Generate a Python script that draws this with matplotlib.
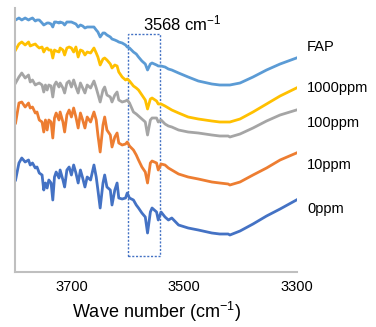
import matplotlib
matplotlib.use("Agg")
import matplotlib.pyplot as plt
from matplotlib.patches import Rectangle

plt.rcParams['font.family'] = ['Liberation Sans', 'DejaVu Sans']
plt.rcParams['mathtext.default'] = 'regular'

# shared wavenumber grid (cm-1)
wavenumber = [3799, 3793, 3788, 3782, 3776, 3773, 3769, 3764, 3761, 3757,
              3752, 3749, 3746, 3743, 3740, 3736, 3733, 3730, 3727, 3722,
              3720, 3715, 3712, 3708, 3704, 3700, 3696, 3692, 3688, 3684,
              3680, 3676, 3672, 3666, 3660, 3656, 3653, 3649, 3644, 3641,
              3637, 3631, 3628, 3623, 3619, 3616, 3610, 3604, 3601, 3597,
              3590, 3585, 3581, 3575, 3569, 3565, 3560, 3557, 3549, 3546,
              3541, 3534, 3528, 3522, 3510, 3493, 3475, 3451, 3437, 3422,
              3419, 3401, 3378, 3354, 3330, 3301]

# stacked spectra (offset, arbitrary units)
fap = [252, 254, 252, 254, 252, 253, 254, 251, 252, 252,
       249, 247, 248, 249, 249, 248, 245, 250, 250, 249,
       250, 249, 247, 250, 250, 250, 249, 248, 245, 247,
       246, 244, 245, 245, 245, 242, 240, 235, 239, 239,
       237, 235, 233, 232, 231, 230, 229, 227, 225, 224,
       220, 218, 215, 211, 208, 202, 208, 209, 207, 206,
       206, 205, 203, 202, 199, 195, 191, 188, 187, 187,
       187, 189, 195, 202, 208, 214]
ppm1000 = [222, 228, 230, 227, 230, 226, 227, 228, 226, 224,
           225, 220, 223, 224, 222, 222, 214, 222, 221, 220,
           224, 222, 217, 224, 225, 224, 220, 225, 215, 222,
           221, 217, 220, 219, 224, 219, 215, 207, 213, 214,
           212, 208, 204, 207, 206, 200, 195, 192, 193, 191,
           186, 184, 182, 177, 172, 163, 173, 174, 171, 168,
           168, 166, 164, 162, 159, 155, 153, 151, 150, 150,
           150, 153, 160, 168, 176, 184]
ppm100 = [189, 195, 199, 194, 197, 190, 192, 187, 188, 189,
          187, 180, 187, 182, 187, 186, 175, 187, 190, 185,
          189, 184, 179, 189, 191, 185, 192, 185, 179, 189,
          184, 179, 187, 184, 191, 184, 178, 170, 182, 185,
          177, 175, 170, 177, 180, 172, 170, 171, 172, 169,
          160, 158, 156, 153, 150, 137, 152, 154, 154, 150,
          152, 148, 146, 145, 142, 140, 139, 137, 136, 136,
          135, 138, 144, 151, 157, 162]
ppm10 = [149, 169, 170, 165, 169, 164, 165, 159, 160, 152,
         150, 140, 152, 142, 152, 150, 134, 154, 159, 152,
         160, 150, 140, 157, 162, 155, 164, 155, 144, 159,
         152, 144, 155, 150, 160, 152, 137, 120, 147, 155,
         142, 137, 125, 135, 139, 129, 127, 128, 130, 126,
         122, 117, 112, 105, 100, 89, 109, 111, 109, 102,
         108, 107, 104, 102, 98, 95, 93, 90, 89, 88,
         87, 90, 97, 104, 112, 119]
ppm0 = [92, 109, 114, 110, 112, 107, 109, 104, 105, 99,
        97, 82, 89, 84, 92, 89, 72, 95, 100, 94,
        102, 92, 85, 102, 105, 97, 107, 99, 89, 102,
        94, 85, 95, 92, 107, 95, 82, 64, 89, 97,
        85, 82, 67, 82, 89, 74, 73, 74, 79, 74,
        72, 67, 64, 59, 55, 39, 60, 64, 60, 52,
        60, 55, 52, 54, 47, 44, 42, 39, 38, 38,
        37, 41, 48, 56, 63, 72]

series = [fap, ppm1000, ppm100, ppm10, ppm0]
labels = ["FAP", "1000ppm", "100ppm", "10ppm", "0ppm"]
label_y = [225, 184, 149, 107, 63]
colors = ["#5B9BD5", "#FFC000", "#A5A5A5", "#ED7D31", "#4472C4"]

fig = plt.figure(figsize=(3.76, 3.27), dpi=100)
ax = fig.add_axes([15 / 376, 55 / 327, 282 / 376, 264 / 327])

for ys, lab, ly, c in zip(series, labels, label_y, colors):
    ax.plot(wavenumber, ys, color=c, linewidth=2.0, solid_joinstyle='round')
    ax.text(3282, ly, lab, fontsize=10.5, va='center', ha='left', clip_on=False)

# highlighted band around 3568 cm-1
ax.add_patch(Rectangle((3600, 16), -57, 222, fill=False, edgecolor="#4472C4",
                       linestyle=(0, (1.5, 1.2)), linewidth=1))
ax.text(3573, 249, "3568 cm$^{-1}$", fontsize=12, va='center', ha='left')

ax.set_xlim(3800, 3300)
ax.set_ylim(0, 264)
ax.set_xticks([3700, 3500, 3300])
ax.set_yticks([])
ax.tick_params(axis='x', length=0, labelsize=10.5, pad=6)
ax.set_xlabel("Wave number (cm$^{-1}$)", fontsize=13, labelpad=4)
for s in ["top", "right"]:
    ax.spines[s].set_visible(False)
for s in ["left", "bottom"]:
    ax.spines[s].set_color("#BFBFBF")
    ax.spines[s].set_linewidth(1.5)

fig.savefig("out.png", dpi=100)
